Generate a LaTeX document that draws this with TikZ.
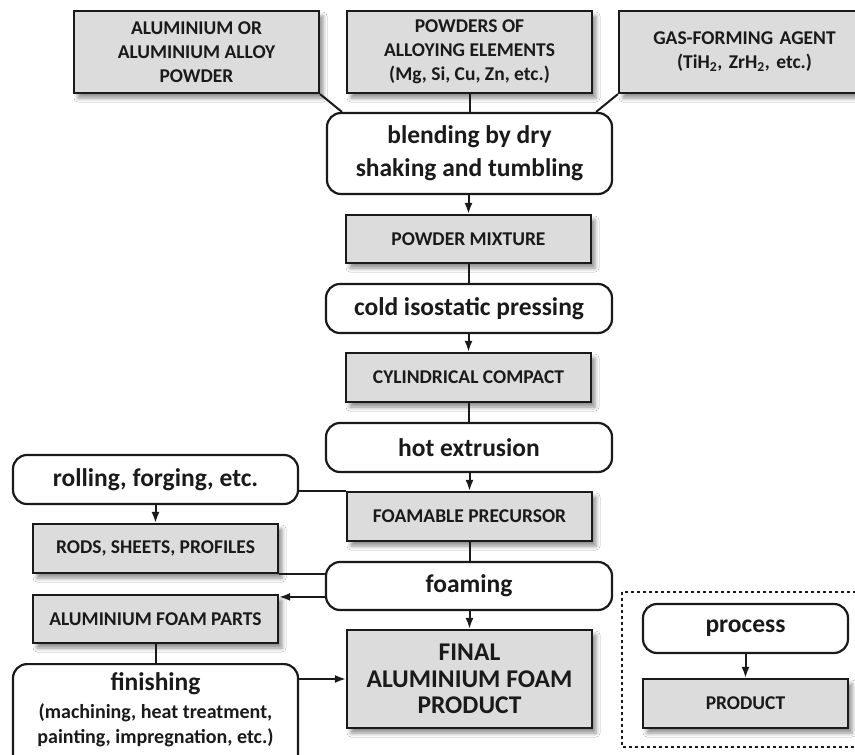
\documentclass[tikz,border=0pt]{standalone}
\usepackage{fontspec}
\setmainfont{Carlito}
\usetikzlibrary{arrows.meta,calc,shadows.blur}
\definecolor{ink}{HTML}{1A1A1A}
\definecolor{boxgray}{HTML}{DCDCDC}
\tikzset{
  gbox/.style={draw=ink, line width=2.2pt, fill=boxgray, text=ink, align=center, inner sep=0pt,
    font=\bfseries\fontsize{19.5}{24}\selectfont,
    blur shadow={shadow xshift=4pt, shadow yshift=-5pt, shadow blur radius=4pt, shadow opacity=45}},
  pbox/.style={draw=ink, line width=2.2pt, fill=white, rounded corners=14pt, text=ink, align=center, inner sep=0pt,
    font=\bfseries\fontsize{25.5}{33}\selectfont},
  conn/.style={draw=ink, line width=2pt},
  arr/.style={conn, -{Latex[length=11pt,width=8pt]}},
}
\begin{document}
\begin{tikzpicture}[x=1pt,y=-1pt]
\useasboundingbox (0,0) rectangle (855,755);
\fill[white] (0,0) rectangle (855,755);
\clip (0,0) rectangle (855,755);
% inputs
\node[gbox, minimum width=245pt, minimum height=82pt] (alu) at (196.5,52) {ALUMINIUM OR\\ALUMINIUM ALLOY\\POWDER};
\node[gbox, minimum width=245pt, minimum height=82pt] (pow) at (469.5,52) {POWDERS OF\\ALLOYING ELEMENTS\\(Mg, Si, Cu, Zn, etc.)};
\node[gbox, minimum width=251pt, minimum height=82pt, text width=223pt] (gas) at (744.5,52) {GAS-FORMING AGENT\\(TiH\textsubscript{2}, ZrH\textsubscript{2}, etc.)};
% main chain
\node[pbox, minimum width=285pt, minimum height=81pt] (blend) at (469.5,153.5) {blending by dry\\shaking and tumbling};
\node[gbox, minimum width=245pt, minimum height=48pt] (mix) at (468.5,239) {POWDER MIXTURE};
\node[pbox, minimum width=286pt, minimum height=49pt] (cold) at (469,308.5) {cold isostatic pressing};
\node[gbox, minimum width=245pt, minimum height=49pt] (cyl) at (468.5,377.5) {CYLINDRICAL COMPACT};
\node[pbox, minimum width=286pt, minimum height=49pt] (hot) at (469,447.5) {hot extrusion};
\node[gbox, minimum width=245pt, minimum height=49pt] (foamable) at (469.5,516.5) {FOAMABLE PRECURSOR};
\node[pbox, minimum width=286pt, minimum height=48pt] (foaming) at (469,586) {foaming};
\node[gbox, minimum width=245pt, minimum height=98pt, font=\bfseries\fontsize{25.5}{26.5}\selectfont] (final) at (469.5,679) {FINAL\\ALUMINIUM FOAM\\PRODUCT};
% side branch
\node[pbox, minimum width=285pt, minimum height=49pt] (roll) at (155.5,479.5) {rolling, forging, etc.};
\node[gbox, minimum width=245pt, minimum height=49pt] (rods) at (155.5,548.5) {RODS, SHEETS, PROFILES};
\node[gbox, minimum width=245pt, minimum height=48pt] (afp) at (155.5,619) {ALUMINIUM FOAM PARTS};
\node[pbox, minimum width=285pt, minimum height=112pt, anchor=north] (finish) at (155.5,663) {};
\node[text=ink, align=center, font=\bfseries\fontsize{25.5}{30}\selectfont, anchor=north] (finishT) at (155.5,669) {finishing};
\node[text=ink, align=center, font=\bfseries\fontsize{20}{25}\selectfont, anchor=north] (finishS) at (155.5,700) {(machining, heat treatment,\\painting, impregnation, etc.)};
% legend
\draw[draw=ink, line width=1.6pt, dash pattern=on 3pt off 3pt] (622,592) rectangle (875,747);
\node[pbox, minimum width=205pt, minimum height=49pt] (proc) at (745.5,628.5) {process};
\node[gbox, minimum width=205pt, minimum height=49pt] (prod) at (745.5,703.5) {PRODUCT};
% connectors
\draw[conn] (alu.south east) -- ($(blend.north west)+(16,0)$);
\draw[conn] (pow.south) -- (pow.south |- blend.north);
\draw[conn] (gas.south west) -- ($(blend.north east)+(-17,0)$);
\draw[arr] (blend.south -| mix.north) -- (mix.north);
\draw[conn] (mix.south) -- (mix.south |- cold.north);
\draw[arr] (cold.south -| cyl.north) -- (cyl.north);
\draw[conn] (cyl.south) -- (cyl.south |- hot.north);
\draw[arr] (hot.south -| foamable.north) -- (foamable.north);
\draw[conn] (roll.east |- foamable.north west) -- (foamable.north west);
\draw[arr] (roll.south) -- (rods.north);
\draw[conn] (foamable.south) -- (foamable.south |- foaming.north);
\draw[conn] (rods.south east) -- (foaming.west |- rods.south east);
\coordinate (afpin) at ($(afp.north east)+(0,3)$);
\draw[arr] (foaming.west |- afpin) -- (afpin);
\draw[arr] (foaming.south -| final.north) -- (final.north);
\draw[conn] (afp.south) -- (finish.north);
\draw[arr] (finish.east |- final.west) -- (final.west);
\draw[arr] (proc.south) -- (prod.north);
\end{tikzpicture}
\end{document}
